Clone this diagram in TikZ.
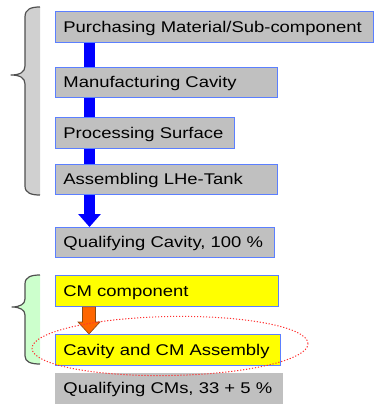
\documentclass[tikz,border=0pt]{standalone}
\usepackage{fontspec}
\setmainfont[FakeStretch=1.19]{Liberation Sans}
\usetikzlibrary{calc,arrows.meta,shapes.geometric}
\definecolor{boxgray}{HTML}{C0C0C0}
\definecolor{boxyellow}{HTML}{FFFF00}
\definecolor{boxblue}{HTML}{5B7FFF}
\definecolor{barblue}{HTML}{0000FF}
\definecolor{arrorange}{HTML}{FF6600}
\definecolor{arrbrown}{HTML}{8A4A10}
\definecolor{bracegray}{HTML}{D0D0D0}
\definecolor{bracegreen}{HTML}{CCFFCC}
\definecolor{braceline}{HTML}{505050}
\definecolor{ellred}{HTML}{FF3030}
\begin{document}
\begin{tikzpicture}[x=1pt,y=1pt,
  stepbox/.style={anchor=north west, inner xsep=8pt, inner ysep=0pt,
    minimum height=31pt, text height=12pt, text depth=1pt, align=left,
    font=\fontsize{15.5}{18}\selectfont, text=black},
  graybox/.style={stepbox, fill=boxgray, draw=boxblue, line width=0.8pt},
  yellowbox/.style={stepbox, fill=boxyellow, draw=boxblue, line width=0.8pt},
  plaingray/.style={stepbox, fill=boxgray, draw=boxgray, line width=0.8pt},
  bluebar/.style={draw=barblue, line width=11pt},
  orangearrow/.style={fill=arrorange, draw=arrbrown, line width=0.6pt},
  bracepath/.style={draw=braceline, line width=1.2pt, line join=round},
  selring/.style={draw=ellred, line width=1pt, dash pattern=on 1.2pt off 1.8pt}
]
\useasboundingbox (0,0) rectangle (374,-406);

% braces
\filldraw[bracepath, fill=bracegray]
  (40,-7) .. controls (31,-7) and (25,-9) .. (25,-17) -- (25,-66)
  .. controls (25,-72) and (20,-75) .. (11,-75)
  .. controls (20,-75) and (25,-78) .. (25,-84) -- (25,-186)
  .. controls (25,-193) and (31,-195) .. (40,-195);
\fill[bracegray] (25.6,-17) rectangle (40,-186);
\filldraw[bracepath, fill=bracegreen]
  (40,-275) .. controls (31,-275) and (25,-277) .. (25,-284) -- (25,-299)
  .. controls (25,-304) and (20,-307) .. (12,-307)
  .. controls (20,-307) and (25,-310) .. (25,-315) -- (25,-356)
  .. controls (25,-362) and (31,-364) .. (40,-364);
\fill[bracegreen] (25.6,-284) rectangle (40,-356);

% boxes
\node[graybox, text width=302pt] (p1) at (55,-11) {Purchasing Material/Sub-component};
\node[graybox, text width=206pt, minimum height=30pt] (p2) at (55,-67) {Manufacturing Cavity};
\node[graybox, text width=163pt] (p3) at (55,-117) {Processing Surface};
\node[graybox, text width=206pt, minimum height=30pt] (p4) at (55,-164) {Assembling LHe-Tank};
\node[graybox, text width=203pt, minimum height=30pt] (q1) at (55,-227) {Qualifying Cavity, 100 \%};
\node[yellowbox, text width=207pt] (cm) at (55,-275) {CM component};
\node[yellowbox, text width=209pt] (asm) at (55,-334) {Cavity and CM Assembly};
\node[plaingray, text width=211pt, minimum height=30pt] (q2) at (55,-373) {Qualifying CMs, 33 + 5 \%};

% blue connectors
\draw[bluebar] ($(p1.south west)+(34.5,0)$) -- ($(p2.north west)+(34.5,0)$);
\draw[bluebar] ($(p2.south west)+(34.5,0)$) -- ($(p3.north west)+(34.5,0)$);
\draw[bluebar] ($(p3.south west)+(34.5,0)$) -- ($(p4.north west)+(34.5,0)$);
\draw[bluebar, -{Triangle[width=22pt,length=13pt]}] ($(p4.south west)+(34.5,0)$) -- ($(q1.north west)+(34.5,0)$);

% orange arrow
\coordinate (oa) at ($(cm.south west)+(34,0)$);
\coordinate (ob) at ($(asm.north west)+(34,0)$);
\filldraw[orangearrow] ([xshift=-6.5pt]oa) -- ([xshift=-6.5pt,yshift=12pt]ob)
  -- ([xshift=-11pt,yshift=12pt]ob) -- (ob) -- ([xshift=11pt,yshift=12pt]ob)
  -- ([xshift=6.5pt,yshift=12pt]ob) -- ([xshift=6.5pt]oa) -- cycle;

% red dotted ellipse
\node[selring, ellipse, minimum width=276pt, minimum height=59pt, inner sep=0pt, rotate=1] (ring) at (170,-346) {};
\end{tikzpicture}
\end{document}
